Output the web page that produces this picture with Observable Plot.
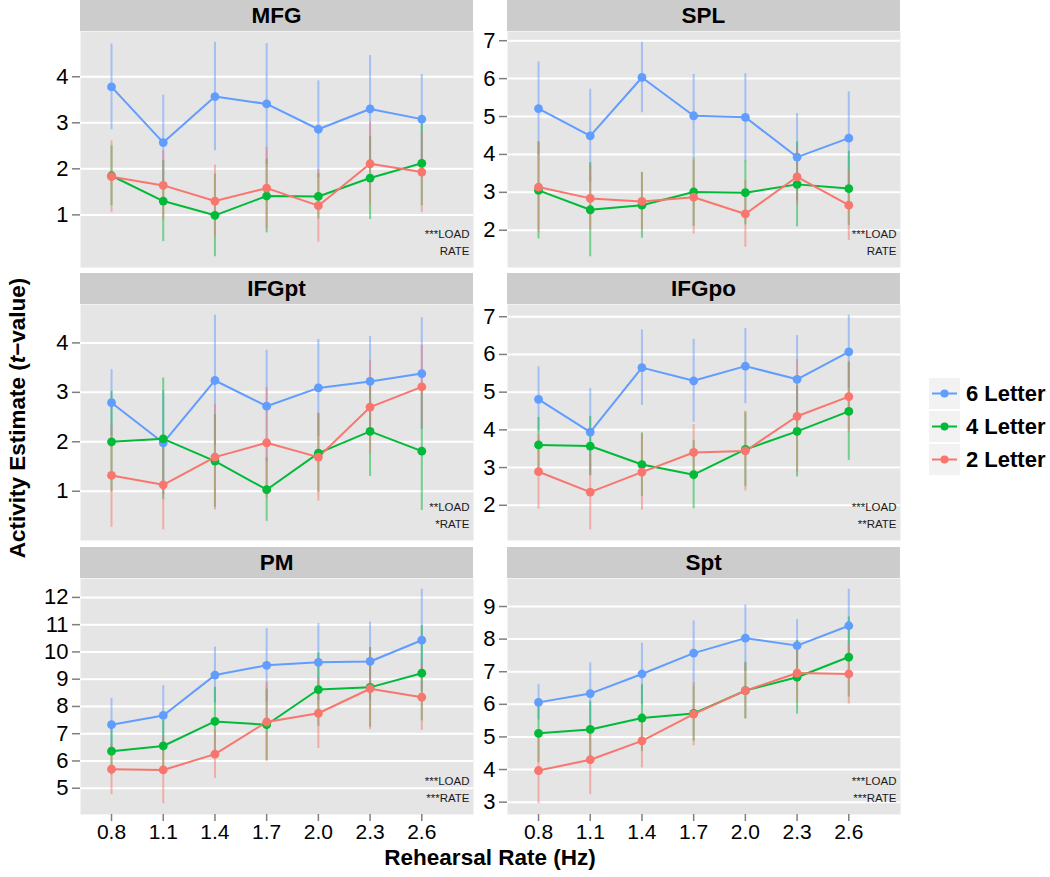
<!DOCTYPE html>
<html>
<head>
<meta charset="utf-8">
<script src="https://cdn.jsdelivr.net/npm/d3@7"></script>
<script src="https://cdn.jsdelivr.net/npm/@observablehq/plot@0.6"></script>
<style>
  body { margin: 0; background: #ffffff; font-family: "Liberation Sans", Arial, Helvetica, sans-serif; }
  #root { position: relative; width: 1050px; height: 877px; overflow: hidden; background: #fff; }
  .strip { position: absolute; background: #cccccc; color: #000; font-weight: bold; font-size: 22.5px;
           display: flex; align-items: center; justify-content: center; }
  .panel { position: absolute; }
  .panel svg { overflow: visible; }
  .title { position: absolute; font-weight: bold; font-size: 22.5px; color: #000; white-space: nowrap; }
  .leg { position: absolute; display: flex; align-items: center; font-weight: bold; font-size: 22px; color: #000; white-space: nowrap; }
</style>
</head>
<body>
<div id="root"></div>
<script>
// ---------- data ----------
const rates = [0.8, 1.1, 1.4, 1.7, 2.0, 2.3, 2.6];
const rateLabels = ["0.8", "1.1", "1.4", "1.7", "2.0", "2.3", "2.6"];
const loads = ["6 Letter", "4 Letter", "2 Letter"];
const loadColors = ["#619CFF", "#00BA38", "#F8766D"];
const regions = ["MFG", "SPL", "IFGpt", "IFGpo", "PM", "Spt"];

// mean t-values (6, 4, 2 letter) and error half-widths
const mfg6 = [3.78, 2.57, 3.57, 3.41, 2.86, 3.30, 3.08];
const mfg6e = [0.93, 1.03, 1.18, 1.31, 1.05, 1.16, 0.97];
const mfg4 = [1.85, 1.30, 0.99, 1.41, 1.40, 1.80, 2.12];
const mfg4e = [0.65, 0.88, 0.90, 0.80, 0.49, 0.90, 0.92];
const mfg2 = [1.83, 1.64, 1.30, 1.58, 1.20, 2.11, 1.93];
const mfg2e = [0.78, 0.75, 0.78, 0.88, 0.79, 0.90, 0.88];

const spl6 = [5.21, 4.49, 6.03, 5.02, 4.98, 3.93, 4.43];
const spl6e = [1.23, 1.23, 0.93, 1.09, 1.15, 1.15, 1.22];
const spl4 = [3.05, 2.54, 2.66, 3.01, 2.99, 3.21, 3.10];
const spl4e = [1.28, 1.24, 0.87, 0.91, 0.85, 1.12, 0.98];
const spl2 = [3.14, 2.84, 2.76, 2.87, 2.43, 3.41, 2.66];
const spl2e = [1.20, 0.85, 0.75, 0.97, 0.88, 0.76, 0.93];

const ifgpt6 = [2.79, 1.98, 3.24, 2.72, 3.09, 3.22, 3.38];
const ifgpt6e = [0.67, 1.05, 1.32, 1.13, 0.98, 0.91, 1.13];
const ifgpt4 = [2.00, 2.06, 1.61, 1.03, 1.77, 2.21, 1.81];
const ifgpt4e = [1.02, 1.23, 0.94, 0.64, 0.80, 0.91, 1.20];
const ifgpt2 = [1.32, 1.13, 1.69, 1.98, 1.69, 2.70, 3.11];
const ifgpt2e = [1.05, 0.91, 1.07, 1.12, 0.89, 0.94, 0.84];

const ifgpo6 = [4.81, 3.94, 5.65, 5.30, 5.69, 5.34, 6.07];
const ifgpo6e = [0.86, 1.16, 1.00, 1.10, 1.00, 1.16, 0.97];
const ifgpo4 = [3.60, 3.57, 3.08, 2.81, 3.48, 3.96, 4.49];
const ifgpo4e = [0.73, 0.78, 0.84, 0.90, 0.98, 1.21, 1.30];
const ifgpo2 = [2.89, 2.35, 2.88, 3.40, 3.44, 4.36, 4.88];
const ifgpo2e = [0.99, 1.00, 1.01, 0.74, 1.06, 1.50, 0.94];

const pm6 = [7.33, 7.67, 9.15, 9.51, 9.62, 9.65, 10.43];
const pm6e = [0.97, 1.09, 1.03, 1.35, 1.42, 1.44, 1.87];
const pm4 = [6.36, 6.55, 7.45, 7.33, 8.62, 8.70, 9.22];
const pm4e = [0.88, 0.94, 1.25, 1.31, 1.35, 1.46, 1.75];
const pm2 = [5.70, 5.67, 6.25, 7.43, 7.75, 8.65, 8.34];
const pm2e = [0.94, 1.24, 0.89, 1.45, 1.29, 1.50, 1.22];

const spt6 = [6.06, 6.33, 6.93, 7.57, 8.03, 7.80, 8.41];
const spt6e = [0.54, 0.94, 0.95, 0.99, 1.02, 0.80, 1.12];
const spt4 = [5.11, 5.23, 5.58, 5.72, 6.42, 6.83, 7.45];
const spt4e = [0.90, 0.86, 1.02, 0.85, 0.87, 1.13, 1.23];
const spt2 = [3.97, 4.30, 4.88, 5.70, 6.42, 6.96, 6.93];
const spt2e = [1.02, 1.07, 0.83, 0.97, 0.85, 0.90, 0.92];

const yTicks = [
  [1, 2, 3, 4],
  [2, 3, 4, 5, 6, 7],
  [1, 2, 3, 4],
  [2, 3, 4, 5, 6, 7],
  [5, 6, 7, 8, 9, 10, 11, 12],
  [3, 4, 5, 6, 7, 8, 9]
];
const annotations = [
  "***LOAD\nRATE",
  "***LOAD\nRATE",
  "**LOAD\n*RATE",
  "***LOAD\n**RATE",
  "***LOAD\n***RATE",
  "***LOAD\n***RATE"
];
const panelMeans = [[mfg6, mfg4, mfg2], [spl6, spl4, spl2], [ifgpt6, ifgpt4, ifgpt2],
                    [ifgpo6, ifgpo4, ifgpo2], [pm6, pm4, pm2], [spt6, spt4, spt2]];
const panelErrs = [[mfg6e, mfg4e, mfg2e], [spl6e, spl4e, spl2e], [ifgpt6e, ifgpt4e, ifgpt2e],
                   [ifgpo6e, ifgpo4e, ifgpo2e], [pm6e, pm4e, pm2e], [spt6e, spt4e, spt2e]];

// ---------- layout ----------
const root = document.getElementById("root");
const colX = [80, 507];          // frame left edges
const frameW = 393;
const stripTop = [0, 273, 547];
const stripH = 31;
const frameH = 236;
const mLeft = 45;
const font = "Liberation Sans, Arial, Helvetica, sans-serif";

regions.forEach((name, k) => {
  const col = k % 2, row = Math.floor(k / 2);
  const showX = row === 2;
  const rows = [];
  loads.forEach((ld, i) => rates.forEach((r, j) => {
    const v = panelMeans[k][i][j], e = panelErrs[k][i][j];
    rows.push({rate: r, load: ld, v, lo: v - e, hi: v + e});
  }));
  const lo = d3.min(rows, d => d.lo), hi = d3.max(rows, d => d.hi), pad = (hi - lo) * 0.05;

  // strip
  const s = document.createElement("div");
  s.className = "strip";
  s.style.left = colX[col] + "px";
  s.style.top = stripTop[row] + "px";
  s.style.width = frameW + "px";
  s.style.height = stripH + "px";
  s.textContent = name;
  root.appendChild(s);

  const marks = [
    Plot.frame({fill: "#e5e5e5", stroke: null}),
    Plot.gridY(yTicks[k], {stroke: "#ffffff", strokeOpacity: 1, strokeWidth: 2}),
    Plot.axisY(yTicks[k], {tickSize: 8, tickPadding: 4, fontSize: 22, stroke: "#7f7f7f", fill: "#000", strokeWidth: 1.5, label: null}),
    Plot.ruleX(rows, {x: "rate", y1: "lo", y2: "hi", stroke: "load", strokeOpacity: 0.5, strokeWidth: 2}),
    Plot.line(rows, {x: "rate", y: "v", z: "load", stroke: "load", strokeWidth: 2}),
    Plot.dot(rows, {x: "rate", y: "v", fill: "load", r: 4.4}),
    Plot.text([annotations[k]], {text: d => d, frameAnchor: "bottom-right", textAnchor: "end", lineAnchor: "bottom",
      dx: -4, dy: -13, fontSize: 11.5, lineHeight: 1.4, fill: "#1a1a1a"})
  ];
  if (showX) {
    marks.push(Plot.axisX(rates, {tickSize: 7, tickPadding: 3, fontSize: 21, stroke: "#7f7f7f", fill: "#000", strokeWidth: 1.5,
      label: null, tickFormat: (d, i) => rateLabels[i]}));
  }
  const chart = Plot.plot({
    width: mLeft + frameW,
    height: frameH + (showX ? 32 : 0),
    marginLeft: mLeft, marginRight: 0, marginTop: 0, marginBottom: showX ? 32 : 0,
    style: {fontFamily: font, background: "transparent", overflow: "visible"},
    x: {domain: [0.62, 2.9], axis: null, label: null},
    y: {domain: [lo - pad, hi + pad], axis: null, label: null},
    color: {domain: loads, range: loadColors},
    marks
  });
  const p = document.createElement("div");
  p.className = "panel";
  p.style.left = (colX[col] - mLeft) + "px";
  p.style.top = (stripTop[row] + stripH) + "px";
  p.appendChild(chart);
  root.appendChild(p);
});

// axis titles
const xt = document.createElement("div");
xt.className = "title";
xt.style.left = "490px"; xt.style.top = "858px";
xt.style.transform = "translate(-50%, -50%)";
xt.textContent = "Rehearsal Rate (Hz)";
root.appendChild(xt);

const yt = document.createElement("div");
yt.className = "title";
yt.style.left = "18px"; yt.style.top = "418px";
yt.style.transform = "translate(-50%, -50%) rotate(-90deg)";
yt.innerHTML = "Activity Estimate (<i>t</i>\u2212value)";
root.appendChild(yt);

// legend
loads.forEach((ld, i) => {
  const row = document.createElement("div");
  row.className = "leg";
  row.style.left = "929px";
  row.style.top = (378 + i * 33) + "px";
  row.style.height = "31px";
  const svg = d3.create("svg").attr("width", 31).attr("height", 31).style("display", "block");
  svg.append("rect").attr("width", 31).attr("height", 31).attr("fill", "#f2f2f2");
  svg.append("line").attr("x1", 3).attr("x2", 28).attr("y1", 15.5).attr("y2", 15.5)
     .attr("stroke", loadColors[i]).attr("stroke-width", 2);
  svg.append("circle").attr("cx", 15.5).attr("cy", 15.5).attr("r", 4).attr("fill", loadColors[i]);
  row.appendChild(svg.node());
  const t = document.createElement("span");
  t.style.marginLeft = "6px";
  t.textContent = ld;
  row.appendChild(t);
  root.appendChild(row);
});
</script>
</body>
</html>
